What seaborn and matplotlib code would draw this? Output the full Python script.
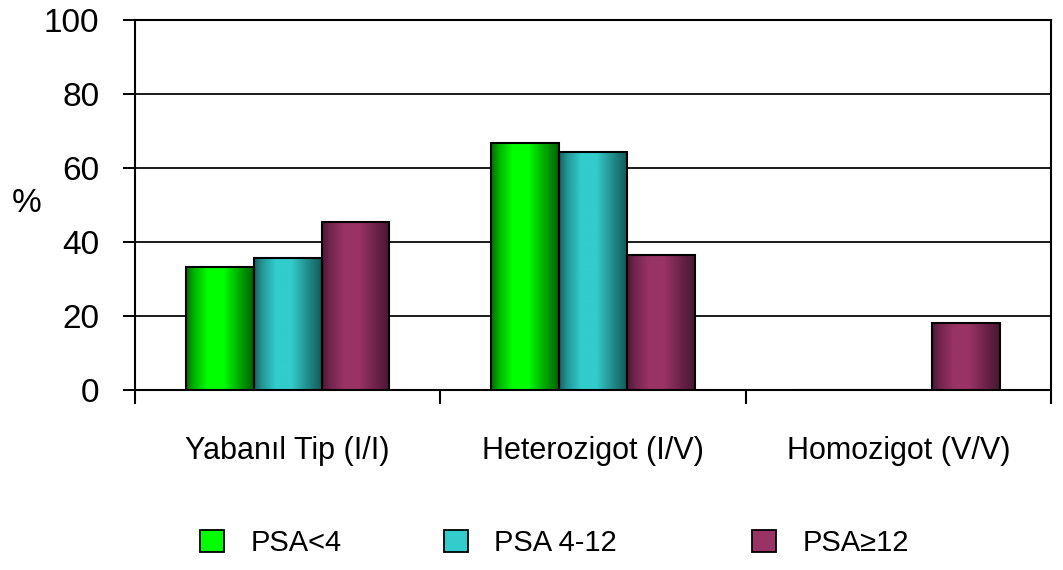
import numpy as np
import pandas as pd
import matplotlib
matplotlib.use("Agg")
import matplotlib.pyplot as plt
import seaborn as sns
from matplotlib.colors import to_rgb
from matplotlib.patches import Patch

# ---- data -------------------------------------------------------------
categories = ["Yabanıl Tip (I/I)", "Heterozigot (I/V)", "Homozigot (V/V)"]
groups = ["PSA<4", "PSA 4-12", "PSA≥12"]
psa_lt4 = [33.3, 66.7, 0.0]
psa_4_12 = [35.7, 64.3, 0.0]
psa_ge12 = [45.5, 36.4, 18.2]
y_ticks = [0, 20, 40, 60, 80, 100]

# ---- styling ----------------------------------------------------------
bright = {"PSA<4": "#00ff00", "PSA 4-12": "#33cccc", "PSA≥12": "#993366"}
dark = {"PSA<4": "#005a00", "PSA 4-12": "#135454", "PSA≥12": "#441530"}

sns.set_style("white")
plt.rcParams["font.family"] = ["Liberation Sans", "DejaVu Sans"]
plt.rcParams.update({"text.color": "black", "axes.labelcolor": "black",
                     "xtick.color": "black", "ytick.color": "black"})

df = pd.DataFrame({
    "genotype": categories * 3,
    "group": [g for g in groups for _ in categories],
    "percent": psa_lt4 + psa_4_12 + psa_ge12,
})

W, H = 1063, 570
fig = plt.figure(figsize=(W / 100, H / 100), dpi=100)
ax = fig.add_axes([135 / W, 1 - 390 / H, (1051 - 135) / W, (390 - 20) / H])

sns.barplot(data=df, x="genotype", y="percent", hue="group",
            order=categories, hue_order=groups, palette=bright,
            width=0.667, gap=0, saturation=1, edgecolor="black",
            linewidth=1.5, legend=False, ax=ax, zorder=3)

# horizontal shading across each bar: dark edges, bright core
prof_t = [0.0, 0.12, 0.32, 0.55, 0.8, 1.0]
prof_w = [0.1, 0.55, 1.0, 1.0, 0.45, 0.05]
tt = np.linspace(0, 1, 200)
ww = np.interp(tt, prof_t, prof_w)

for cont, g in zip(ax.containers, groups):
    c_hi = np.array(to_rgb(bright[g]))
    c_lo = np.array(to_rgb(dark[g]))
    grad = (c_lo[None, :] + ww[:, None] * (c_hi - c_lo)[None, :])[None, :, :]
    for bar in cont:
        bar.set_facecolor("none")
        x0, y0 = bar.get_xy()
        w, h = bar.get_width(), bar.get_height()
        if h <= 0:
            continue
        im = ax.imshow(grad, extent=[x0, x0 + w, y0, y0 + h], aspect="auto",
                       interpolation="bilinear", zorder=2.9)
        im.set_clip_path(bar)

ax.set_xlim(-0.5, 2.5)
ax.set_ylim(0, 100)

# axes, grid, ticks
ax.yaxis.grid(True, color="#1a1a1a", linewidth=1.4)
ax.xaxis.grid(False)
ax.set_axisbelow(True)
for s in ax.spines.values():
    s.set_visible(True)
    s.set_color("black")
    s.set_linewidth(1.5)

ax.set_yticks(y_ticks)
ax.tick_params(axis="y", direction="out", length=8.6, width=1.4,
               labelsize=24, pad=17, left=True)
ax.set_xticks(range(len(categories)))
ax.set_xticklabels(categories, fontsize=22)
ax.set_xticks([-0.5, 0.5, 1.5, 2.5], minor=True)
ax.tick_params(axis="x", which="major", length=0, pad=33)
ax.tick_params(axis="x", which="minor", direction="out", length=10,
               width=1.5, bottom=True)

ax.set_xlabel("")
ax.set_ylabel("%", rotation=0, fontsize=24, ha="center", va="center")
ax.yaxis.set_label_coords((27 - 135) / (1051 - 135), (390 - 204) / 370)

# legend below the plot, one entry per series at its own position
legend_x = [200, 444, 752]
for g, lx in zip(groups, legend_x):
    h = Patch(facecolor=bright[g], edgecolor="black", linewidth=1.3)
    fig.legend(handles=[h], labels=[g], loc="center left",
               bbox_to_anchor=(lx / W, 1 - 543 / H), frameon=False, fontsize=21,
               handlelength=0.82, handleheight=0.8, handletextpad=0.9,
               borderpad=0, borderaxespad=0)

fig.savefig("out.png", dpi=100)
